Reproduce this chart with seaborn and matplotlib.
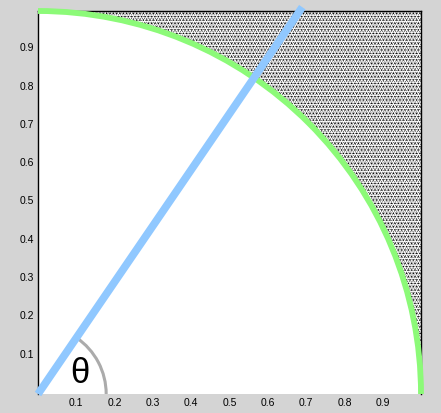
import matplotlib
matplotlib.use("Agg")
import matplotlib.pyplot as plt
from matplotlib.patches import Arc, Rectangle, Wedge
from matplotlib.transforms import ScaledTranslation
import pandas as pd
import seaborn as sns

# values
tick_values = [0.1, 0.2, 0.3, 0.4, 0.5, 0.6, 0.7, 0.8, 0.9]
tick_labels = ["0.1", "0.2", "0.3", "0.4", "0.5", "0.6", "0.7", "0.8", "0.9"]
ray_x = [0.0, 0.69]
ray_y = [0.0, 1.01]
circle_radius = [1.0]
angle_radius = [0.178]
angle_span = [0.0, 55.6]

BG = "#d4d4d4"
GREEN = "#8cfa78"
BLUE = "#90c8ff"
GREY = "#ababab"

sns.set_theme(style="white")
plt.rcParams["font.family"] = ["Liberation Sans", "DejaVu Sans"]
plt.rcParams["hatch.linewidth"] = 0.0

fig = plt.figure(figsize=(4.41, 4.14), dpi=100, facecolor=BG)
ax = fig.add_axes([38 / 441, 19 / 414, 383 / 441, 383 / 414], facecolor="white")

# The speckle can't be read dot by dot, so it is a fill texture, not data.
# Overlaying different densities breaks up the regular grid a bit.
for pattern in ["*" * 5, "*" * 9]:
    ax.add_patch(Rectangle((0, 0), 1, 1, facecolor="none", edgecolor="black", lw=0, hatch=pattern, zorder=1))
ax.add_patch(Wedge((0, 0), circle_radius[0], 0, 90, facecolor="white", edgecolor="none", zorder=2))

# quarter circle and the little angle mark
d = 2 * circle_radius[0]
ax.add_patch(Arc((0, 0), d, d, theta1=0, theta2=90, color=GREEN, lw=4.2, zorder=3, clip_on=False))
d = 2 * angle_radius[0]
ax.add_patch(Arc((0, 0), d, d, theta1=angle_span[0], theta2=angle_span[1], color=GREY, lw=2.2, zorder=3))

# the ray
ray = pd.DataFrame({"x": ray_x, "y": ray_y})
sns.lineplot(data=ray, x="x", y="y", color=BLUE, lw=5.6, ax=ax, zorder=4, clip_on=False,
             solid_capstyle="butt", errorbar=None, sort=False)

ax.text(0.11, 0.055, "θ", fontsize=25, color="black", ha="center", va="center", zorder=5)

ax.set_xlim(0, 1)
ax.set_ylim(0, 1)
ax.set_xlabel("")
ax.set_ylabel("")
ax.set_xticks(tick_values)
ax.set_xticklabels(tick_labels)
ax.set_yticks(tick_values)
ax.set_yticklabels(tick_labels)
ax.tick_params(length=0, labelsize=7.5, colors="black", pad=2)
ax.tick_params(axis="y", pad=3)
# y labels sit a little above their positions in the reference
shift = ScaledTranslation(0, 3 / 100, fig.dpi_scale_trans)
for label in ax.get_yticklabels():
    label.set_transform(label.get_transform() + shift)
for side in ["left", "top", "right"]:
    ax.spines[side].set_color("black")
    ax.spines[side].set_linewidth(1.0)
ax.spines["bottom"].set_visible(False)

fig.savefig("out.png", dpi=100, facecolor=BG)
